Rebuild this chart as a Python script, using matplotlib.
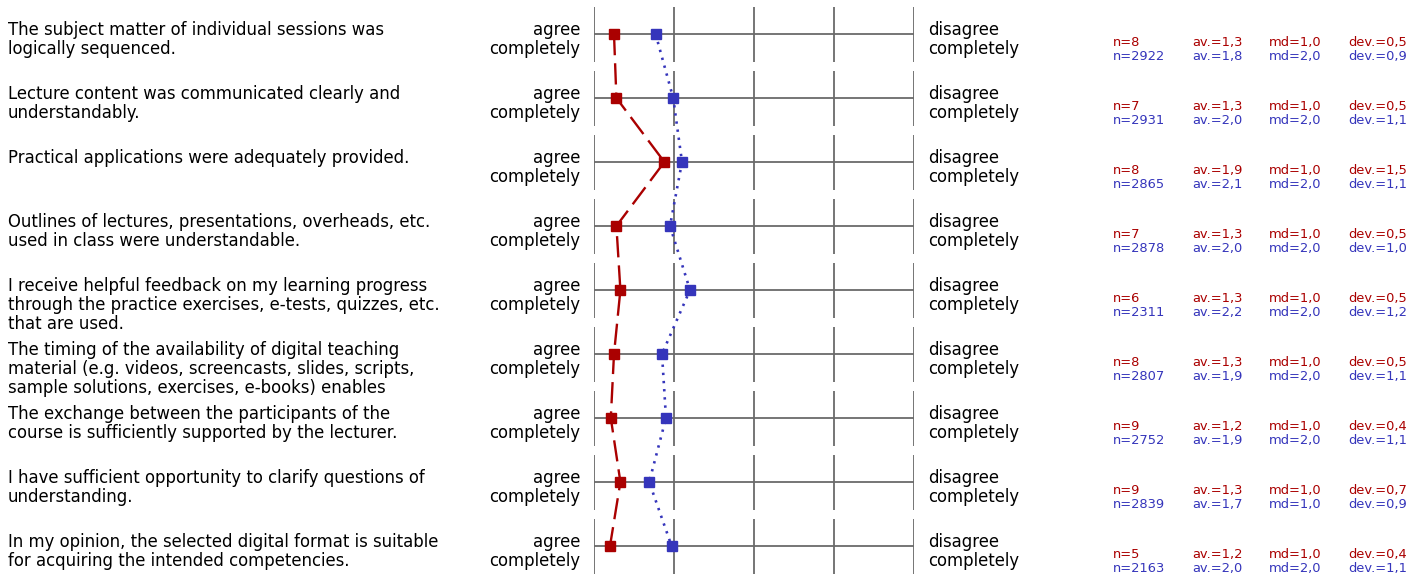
import numpy as np
import matplotlib
matplotlib.use("Agg")
import matplotlib.pyplot as plt
from matplotlib.transforms import blended_transform_factory

# questions (left column), one entry per row
questions = [
    "The subject matter of individual sessions was\nlogically sequenced.",
    "Lecture content was communicated clearly and\nunderstandably.",
    "Practical applications were adequately provided.",
    "Outlines of lectures, presentations, overheads, etc.\nused in class were understandable.",
    "I receive helpful feedback on my learning progress\nthrough the practice exercises, e-tests, quizzes, etc.\nthat are used.",
    "The timing of the availability of digital teaching\nmaterial (e.g. videos, screencasts, slides, scripts,\nsample solutions, exercises, e-books) enables",
    "The exchange between the participants of the\ncourse is sufficiently supported by the lecturer.",
    "I have sufficient opportunity to clarify questions of\nunderstanding.",
    "In my opinion, the selected digital format is suitable\nfor acquiring the intended competencies.",
]

# profile line positions (1 = agree completely, 5 = disagree completely)
course_pos = [1.25, 1.28, 1.88, 1.28, 1.33, 1.25, 1.21, 1.33, 1.20]
ref_pos = [1.77, 1.99, 2.10, 1.95, 2.20, 1.85, 1.90, 1.69, 1.97]

# statistics: course (red)
course_n = [8, 7, 8, 7, 6, 8, 9, 9, 5]
course_av = [1.3, 1.3, 1.9, 1.3, 1.3, 1.3, 1.2, 1.3, 1.2]
course_md = [1.0, 1.0, 1.0, 1.0, 1.0, 1.0, 1.0, 1.0, 1.0]
course_dev = [0.5, 0.5, 1.5, 0.5, 0.5, 0.5, 0.4, 0.7, 0.4]

# statistics: comparison (blue)
ref_n = [2922, 2931, 2865, 2878, 2311, 2807, 2752, 2839, 2163]
ref_av = [1.8, 2.0, 2.1, 2.0, 2.2, 1.9, 1.9, 1.7, 2.0]
ref_md = [2.0, 2.0, 2.0, 2.0, 2.0, 2.0, 2.0, 1.0, 2.0]
ref_dev = [0.9, 1.1, 1.1, 1.0, 1.2, 1.1, 1.1, 0.9, 1.1]

left_label = "agree\ncompletely"
right_label = "disagree\ncompletely"

RED = "#aa0000"
BLUE = "#3535bb"
GRID = "#6a6a6a"

W, H = 1425, 574
ROW = 64.0   # px per row
LINE = 19.0  # px between text baselines
fig = plt.figure(figsize=(W / 100, H / 100), dpi=100)
ax = fig.add_axes([594 / W, 0, 320 / W, 1])
n_rows = len(questions)
ax.set_xlim(1, 5)
ax.set_ylim((H - 34) / ROW, -34 / ROW)
ax.axis("off")

rows = np.arange(n_rows)

# grid: horizontal line + 5 short vertical ticks per row
for i in rows:
    ax.hlines(i, 1, 5, color=GRID, lw=1.3, zorder=1)
    ax.vlines(np.arange(1, 6), i - 27.5 / ROW, i + 27.5 / ROW, color=GRID, lw=1.3, zorder=1)

ax.plot(ref_pos, rows, color=BLUE, lw=1.9, linestyle=(0, (0.9, 2.2)),
        marker="s", ms=6.6, zorder=3, clip_on=False)
ax.plot(course_pos, rows, color=RED, lw=1.7, linestyle=(0, (9.0, 3.4)),
        marker="s", ms=6.6, zorder=4, clip_on=False)

tr = blended_transform_factory(fig.transFigure, ax.transData)

def fmt(v):
    return ("%.1f" % v).replace(".", ",")

def put(x, i, s, ha):
    # anchor = baseline of the last line; first baseline sits 1 px under row centre
    nl = s.count("\n")
    y = i + (1.0 + nl * LINE) / ROW
    ax.text(x / W, y, s, transform=tr, ha=ha, va="baseline",
            fontsize=11.9, linespacing=1.08, color="black")

for i in rows:
    put(8, i, questions[i], "left")
    put(580, i, left_label, "right")
    put(928, i, right_label, "left")

    y1 = i + 12.0 / ROW
    y2 = i + 26.2 / ROW
    cols = [1113, 1192, 1269, 1348]
    red_txt = ["n=%d" % course_n[i], "av.=" + fmt(course_av[i]),
               "md=" + fmt(course_md[i]), "dev.=" + fmt(course_dev[i])]
    blue_txt = ["n=%d" % ref_n[i], "av.=" + fmt(ref_av[i]),
                "md=" + fmt(ref_md[i]), "dev.=" + fmt(ref_dev[i])]
    for x, t1, t2 in zip(cols, red_txt, blue_txt):
        ax.text(x / W, y1, t1, transform=tr, ha="left", va="baseline",
                fontsize=9.4, color=RED)
        ax.text(x / W, y2, t2, transform=tr, ha="left", va="baseline",
                fontsize=9.4, color=BLUE)

fig.savefig("out.png", dpi=100)
